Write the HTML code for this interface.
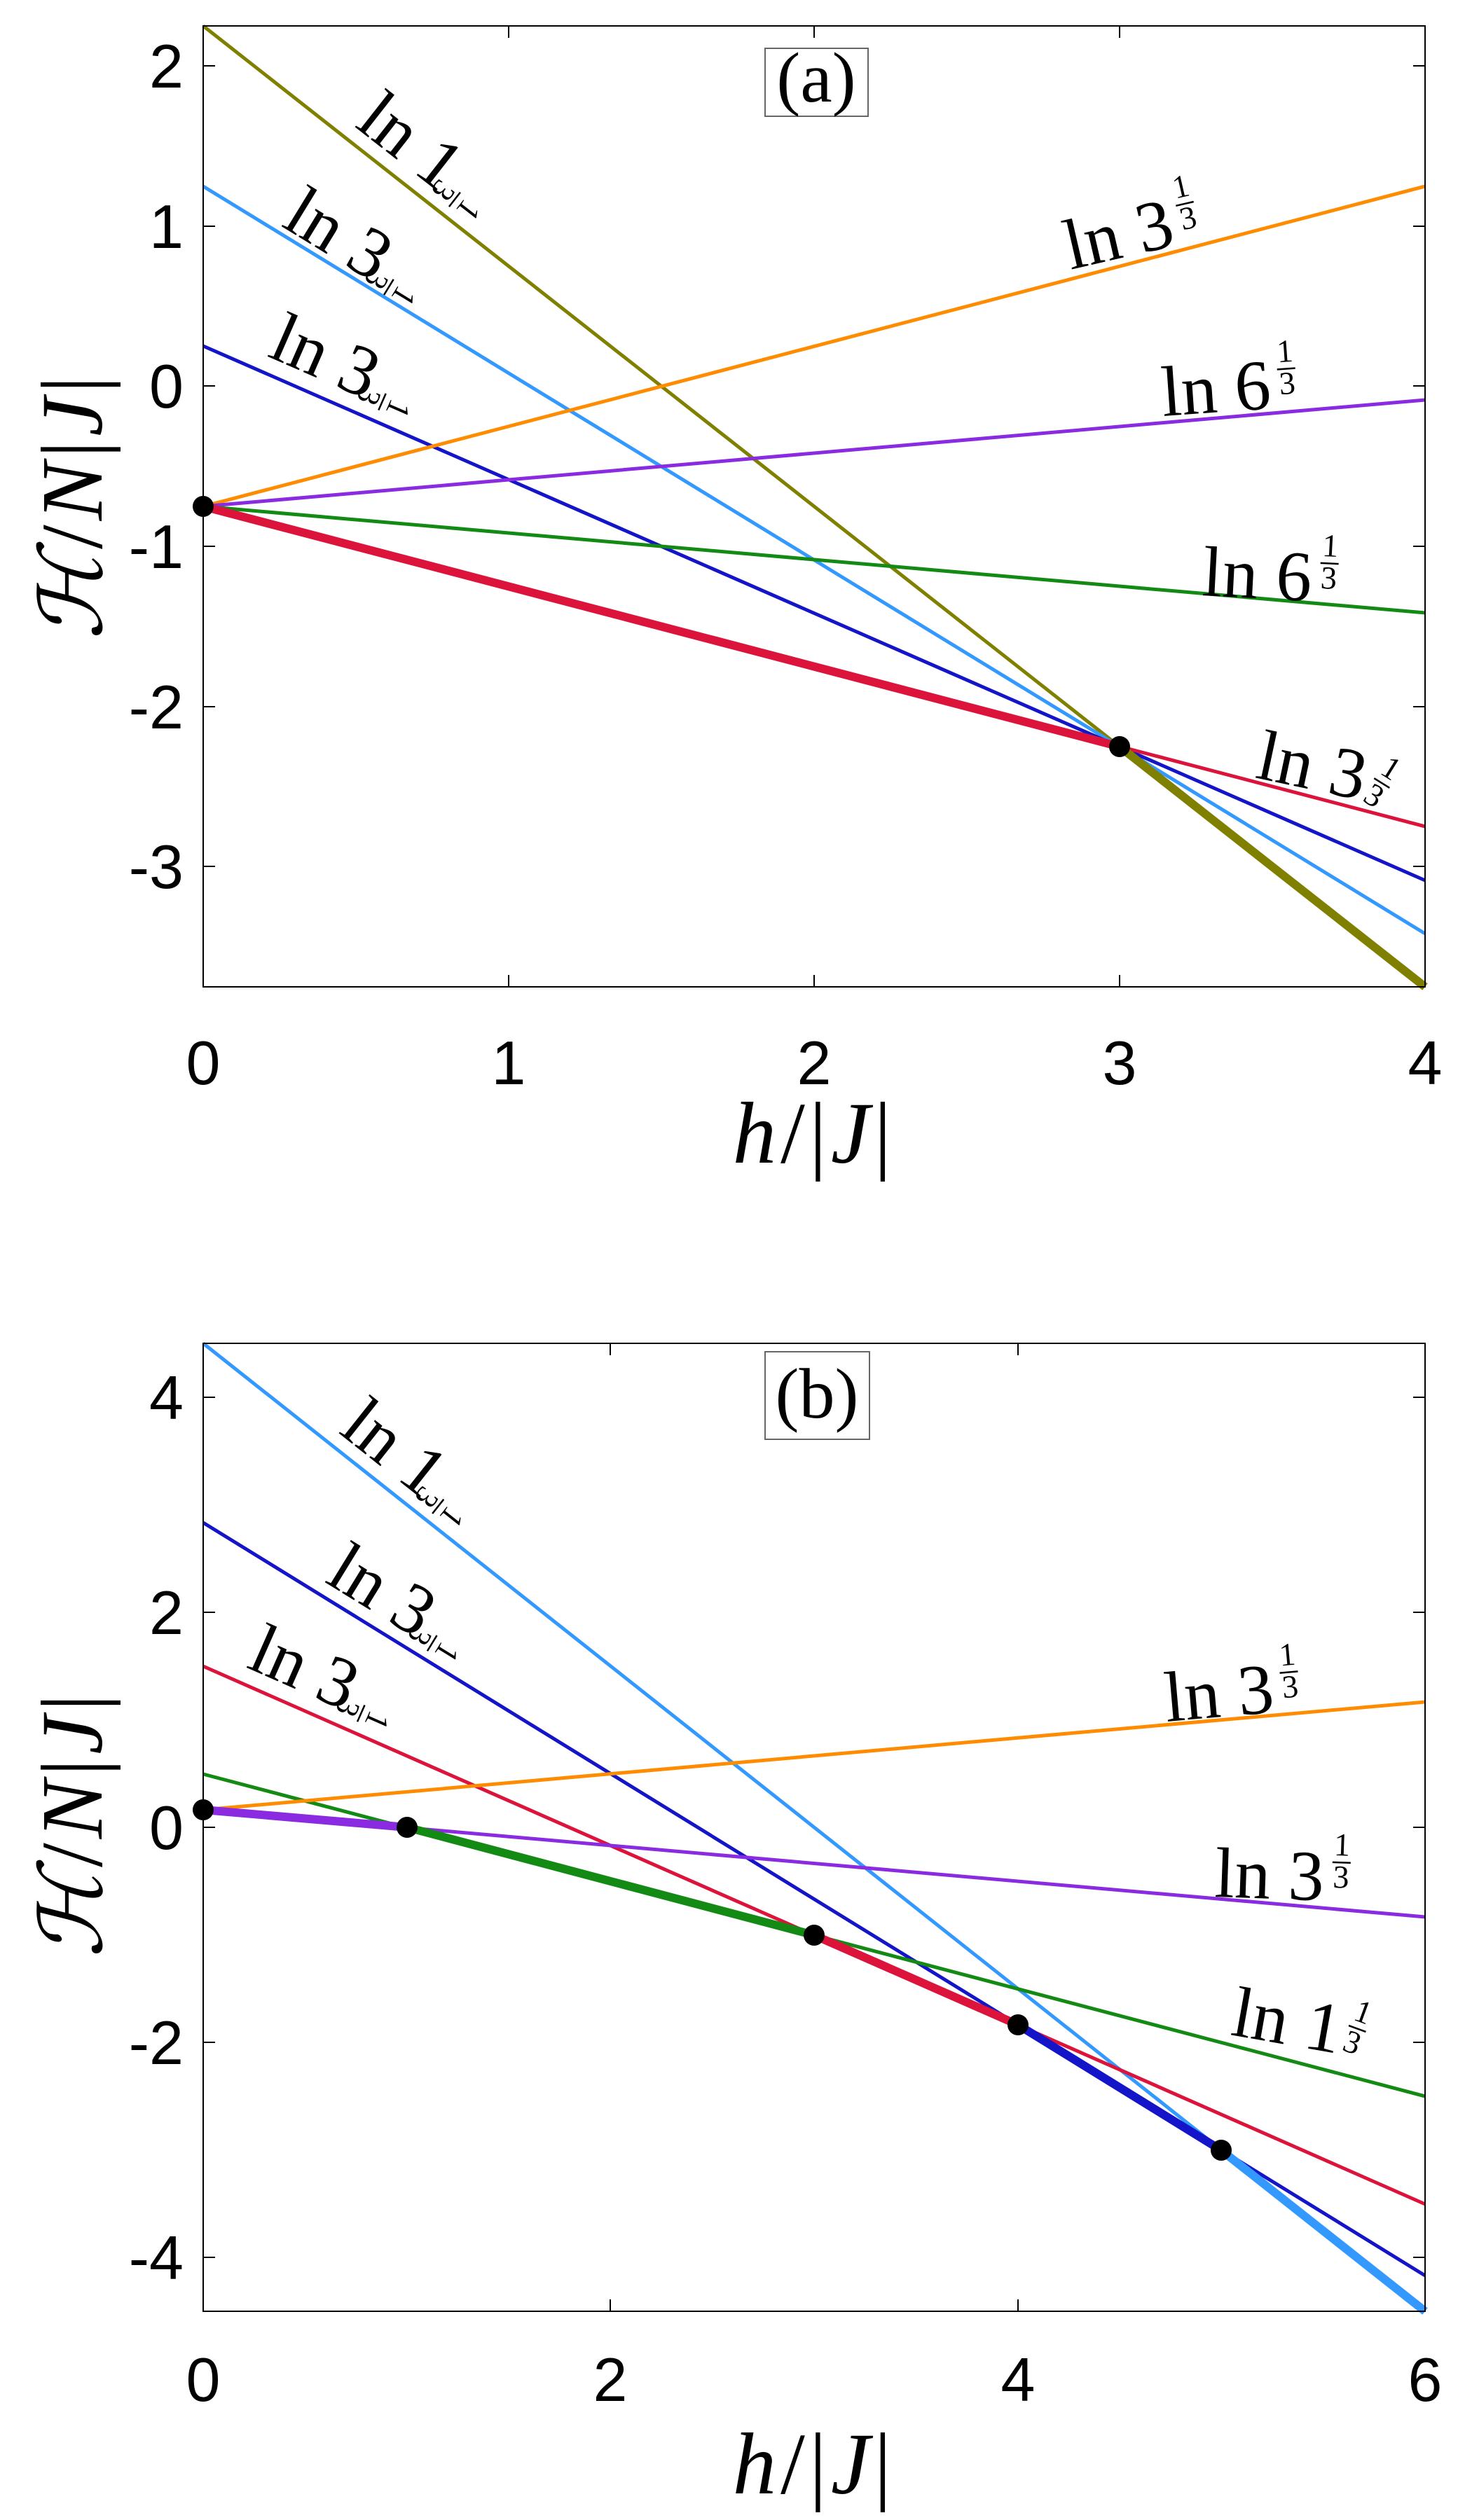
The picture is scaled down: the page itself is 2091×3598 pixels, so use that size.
<!DOCTYPE html>
<html><head><meta charset="utf-8"><style>
html,body{margin:0;padding:0;background:#fff}
svg{display:block}
.t{font-family:"Liberation Sans",sans-serif;font-size:88px;fill:#000}
.s{font-family:"Liberation Serif",serif;font-size:102px;fill:#000}
.f{font-family:"Liberation Serif",serif;font-size:46px;fill:#000;text-anchor:middle}
.ax{font-family:"Liberation Serif",serif;font-style:italic;font-size:125px;fill:#000}
</style></head><body>
<svg width="2091" height="3598" viewBox="0 0 2091 3598" xmlns="http://www.w3.org/2000/svg">
<defs>
<g id="fu"><text class="f" x="0" y="-10">1</text><line x1="-13" y1="0" x2="13" y2="0" stroke="#000" stroke-width="2.5"/><text class="f" x="0" y="36">3</text></g>
</defs>
<rect width="2091" height="3598" fill="#fff"/>

<!-- ===== Panel (a) ===== -->
<g stroke-linecap="butt" fill="none">
<line x1="290" y1="37" x2="2034" y2="1409" stroke="#808000" stroke-width="5"/>
<line x1="290" y1="266" x2="2034" y2="1333" stroke="#3399ff" stroke-width="5"/>
<line x1="290" y1="494" x2="2034" y2="1257" stroke="#1414c8" stroke-width="5"/>
<line x1="290" y1="723" x2="2034" y2="266" stroke="#ff8c00" stroke-width="5"/>
<line x1="290" y1="723" x2="2034" y2="571" stroke="#8a2be2" stroke-width="5"/>
<line x1="290" y1="723" x2="2034" y2="875" stroke="#138a13" stroke-width="5"/>
<line x1="290" y1="723" x2="2034" y2="1180" stroke="#dc143c" stroke-width="5"/>
<line x1="290" y1="723" x2="1598" y2="1066" stroke="#dc143c" stroke-width="12"/>
<line x1="1598" y1="1066" x2="2034" y2="1409" stroke="#808000" stroke-width="12"/>
</g>
<circle cx="290" cy="723" r="15" fill="#000"/>
<circle cx="1598" cy="1066" r="15" fill="#000"/>
<rect x="290" y="37" width="1744" height="1372" fill="none" stroke="#000" stroke-width="2"/>
<g stroke="#000" stroke-width="2">
<line x1="726" y1="1409" x2="726" y2="1392"/><line x1="1162" y1="1409" x2="1162" y2="1392"/><line x1="1598" y1="1409" x2="1598" y2="1392"/>
<line x1="726" y1="37" x2="726" y2="54"/><line x1="1162" y1="37" x2="1162" y2="54"/><line x1="1598" y1="37" x2="1598" y2="54"/>
<line x1="290" y1="94" x2="307" y2="94"/><line x1="290" y1="323" x2="307" y2="323"/><line x1="290" y1="551" x2="307" y2="551"/><line x1="290" y1="780" x2="307" y2="780"/><line x1="290" y1="1009" x2="307" y2="1009"/><line x1="290" y1="1237" x2="307" y2="1237"/>
<line x1="2034" y1="94" x2="2017" y2="94"/><line x1="2034" y1="323" x2="2017" y2="323"/><line x1="2034" y1="551" x2="2017" y2="551"/><line x1="2034" y1="780" x2="2017" y2="780"/><line x1="2034" y1="1009" x2="2017" y2="1009"/><line x1="2034" y1="1237" x2="2017" y2="1237"/>
</g>
<g class="t" text-anchor="middle">
<text x="290" y="1548">0</text><text x="726" y="1548">1</text><text x="1162" y="1548">2</text><text x="1598" y="1548">3</text><text x="2034" y="1548">4</text>
</g>
<g class="t" text-anchor="end">
<text x="262" y="125">2</text><text x="262" y="354">1</text><text x="262" y="582">0</text><text x="262" y="811">-1</text><text x="262" y="1040">-2</text><text x="262" y="1268">-3</text>
</g>
<text class="ax" x="1162" y="1660" text-anchor="middle" letter-spacing="6">h<tspan font-style="normal">/|</tspan>J<tspan font-style="normal">|</tspan></text>
<text class="ax" transform="translate(145,722) rotate(-90)" text-anchor="middle" letter-spacing="6">ℋ<tspan font-style="normal">/</tspan>N<tspan font-style="normal">|</tspan>J<tspan font-style="normal">|</tspan></text>
<rect x="1092" y="69" width="147" height="97" fill="#fff" stroke="#666" stroke-width="2"/>
<text class="s" x="1165" y="145" text-anchor="middle" font-size="84">(a)</text>

<!-- labels a -->
<g transform="translate(505,180) rotate(38)"><text class="s">ln 1</text><use href="#fu" transform="translate(178,-6) rotate(90)"/></g>
<g transform="translate(400,322) rotate(31.5)"><text class="s">ln 3</text><use href="#fu" transform="translate(178,-6) rotate(90)"/></g>
<g transform="translate(380,508) rotate(23.6)"><text class="s">ln 3</text><use href="#fu" transform="translate(178,-6) rotate(90)"/></g>
<g transform="translate(1528,385) rotate(-13)"><text class="s">ln 3</text><use href="#fu" transform="translate(180,-55)"/></g>
<g transform="translate(1660,594) rotate(-4)"><text class="s">ln 6</text><use href="#fu" transform="translate(180,-55)"/></g>
<g transform="translate(1715,850) rotate(3)"><text class="s">ln 6</text><use href="#fu" transform="translate(180,-55)"/></g>
<g transform="translate(1790,1110) rotate(12)"><text class="s">ln 3</text><use href="#fu" transform="translate(180,-30) rotate(20)"/></g>

<!-- ===== Panel (b) ===== -->
<g stroke-linecap="butt" fill="none">
<line x1="290" y1="1918" x2="2034" y2="3300" stroke="#3399ff" stroke-width="5"/>
<line x1="290" y1="2174" x2="2034" y2="3249" stroke="#1414c8" stroke-width="5"/>
<line x1="290" y1="2379" x2="2034" y2="3147" stroke="#dc143c" stroke-width="5"/>
<line x1="290" y1="2533" x2="2034" y2="2993" stroke="#138a13" stroke-width="5"/>
<line x1="290" y1="2584" x2="2034" y2="2430" stroke="#ff8c00" stroke-width="5"/>
<line x1="290" y1="2584" x2="2034" y2="2737" stroke="#8a2be2" stroke-width="5"/>
<line x1="290" y1="2584" x2="581" y2="2609" stroke="#8a2be2" stroke-width="12"/>
<line x1="581" y1="2609" x2="1162" y2="2763" stroke="#138a13" stroke-width="12"/>
<line x1="1162" y1="2763" x2="1453" y2="2891" stroke="#dc143c" stroke-width="12"/>
<line x1="1453" y1="2891" x2="1743" y2="3070" stroke="#1414c8" stroke-width="12"/>
<line x1="1743" y1="3070" x2="2034" y2="3300" stroke="#3399ff" stroke-width="12"/>
</g>
<circle cx="290" cy="2584" r="15" fill="#000"/>
<circle cx="581" cy="2609" r="15" fill="#000"/>
<circle cx="1162" cy="2763" r="15" fill="#000"/>
<circle cx="1453" cy="2891" r="15" fill="#000"/>
<circle cx="1743" cy="3070" r="15" fill="#000"/>
<rect x="290" y="1918" width="1744" height="1382" fill="none" stroke="#000" stroke-width="2"/>
<g stroke="#000" stroke-width="2">
<line x1="871" y1="3300" x2="871" y2="3283"/><line x1="1453" y1="3300" x2="1453" y2="3283"/>
<line x1="871" y1="1918" x2="871" y2="1935"/><line x1="1453" y1="1918" x2="1453" y2="1935"/>
<line x1="290" y1="1995" x2="307" y2="1995"/><line x1="290" y1="2302" x2="307" y2="2302"/><line x1="290" y1="2609" x2="307" y2="2609"/><line x1="290" y1="2916" x2="307" y2="2916"/><line x1="290" y1="3223" x2="307" y2="3223"/>
<line x1="2034" y1="1995" x2="2017" y2="1995"/><line x1="2034" y1="2302" x2="2017" y2="2302"/><line x1="2034" y1="2609" x2="2017" y2="2609"/><line x1="2034" y1="2916" x2="2017" y2="2916"/><line x1="2034" y1="3223" x2="2017" y2="3223"/>
</g>
<g class="t" text-anchor="middle">
<text x="290" y="3428">0</text><text x="871" y="3428">2</text><text x="1453" y="3428">4</text><text x="2034" y="3428">6</text>
</g>
<g class="t" text-anchor="end">
<text x="262" y="2026">4</text><text x="262" y="2333">2</text><text x="262" y="2640">0</text><text x="262" y="2947">-2</text><text x="262" y="3254">-4</text>
</g>
<text class="ax" x="1162" y="3560" text-anchor="middle" letter-spacing="6">h<tspan font-style="normal">/|</tspan>J<tspan font-style="normal">|</tspan></text>
<text class="ax" transform="translate(145,2604) rotate(-90)" text-anchor="middle" letter-spacing="6">ℋ<tspan font-style="normal">/</tspan>N<tspan font-style="normal">|</tspan>J<tspan font-style="normal">|</tspan></text>
<rect x="1092" y="1930" width="149" height="125" fill="#fff" stroke="#666" stroke-width="2"/>
<text class="s" x="1166" y="2024" text-anchor="middle" font-size="84">(b)</text>

<!-- labels b -->
<g transform="translate(482,2045) rotate(38.4)"><text class="s">ln 1</text><use href="#fu" transform="translate(178,-6) rotate(90)"/></g>
<g transform="translate(462,2258) rotate(31.6)"><text class="s">ln 3</text><use href="#fu" transform="translate(178,-6) rotate(90)"/></g>
<g transform="translate(350,2380) rotate(23.8)"><text class="s">ln 3</text><use href="#fu" transform="translate(178,-6) rotate(90)"/></g>
<g transform="translate(1665,2458) rotate(-5)"><text class="s">ln 3</text><use href="#fu" transform="translate(180,-55)"/></g>
<g transform="translate(1733,2708) rotate(2)"><text class="s">ln 3</text><use href="#fu" transform="translate(180,-55)"/></g>
<g transform="translate(1755,2905) rotate(10)"><text class="s">ln 1</text><use href="#fu" transform="translate(178,-40) rotate(10)"/></g>
</svg>
</body></html>
